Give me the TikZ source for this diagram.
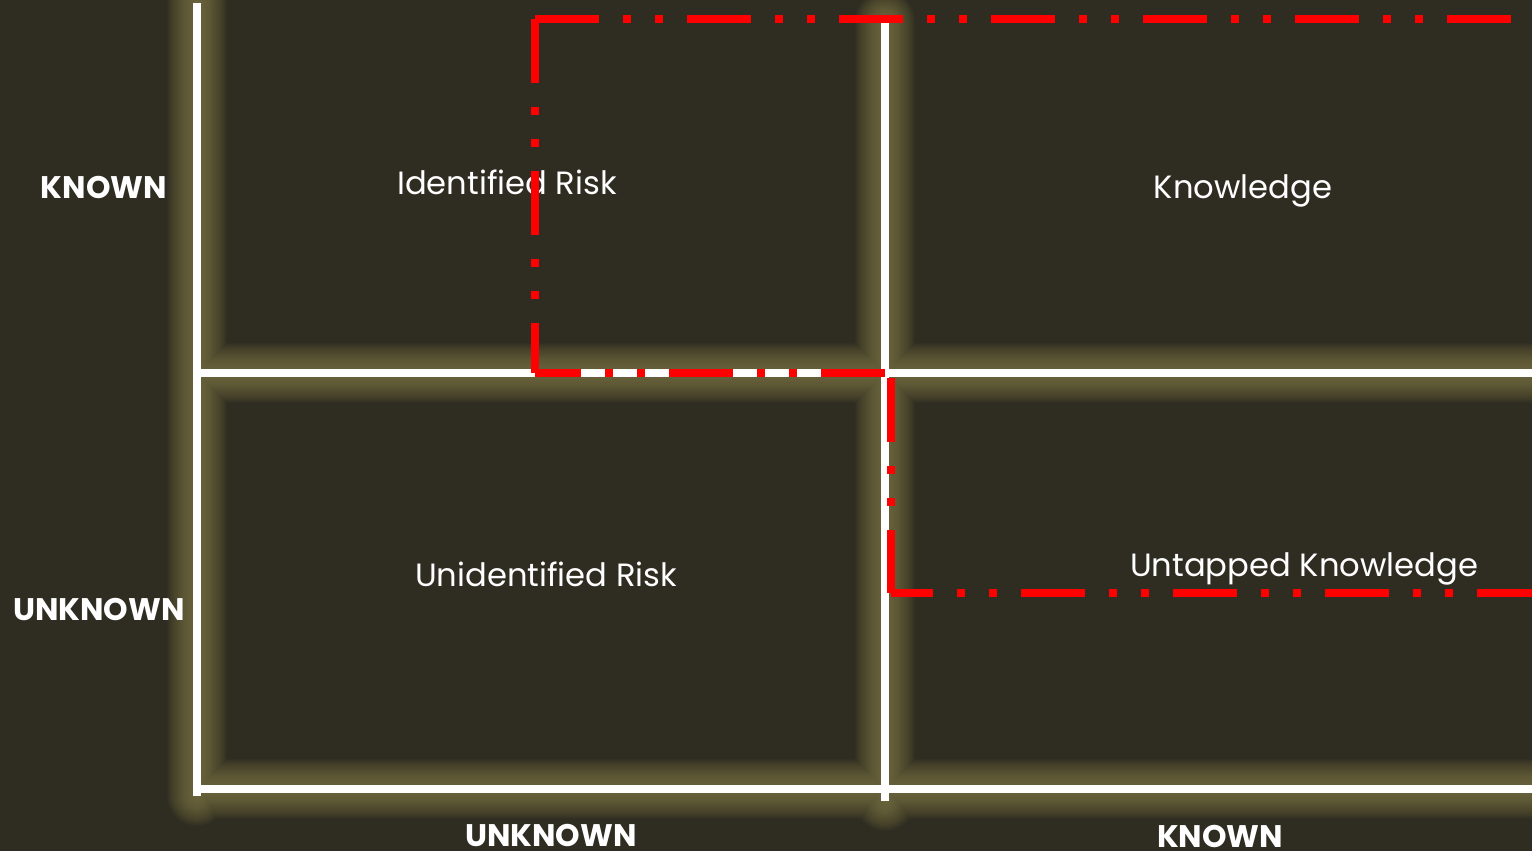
\documentclass[tikz,border=0pt]{standalone}
\usepackage{fontspec}
\setmainfont{Poppins}
\definecolor{bgcol}{HTML}{2F2D22}
\definecolor{glowcol}{HTML}{8C8450}
\definecolor{riskred}{HTML}{FF0000}
\begin{document}
\begin{tikzpicture}[x=0.5pt,y=-0.5pt,
    wline/.style={white,line width=3.8pt},
    redline/.style={riskred,line width=4pt,
      dash pattern=on 32pt off 12pt on 4pt off 12pt on 4pt off 12pt},
    lbl/.style={white,anchor=base,font=\fontsize{16.1}{18}\selectfont},
    axislbl/.style={white,anchor=base,font=\bfseries\fontsize{15.6}{18}\selectfont}]
  \fill[bgcol] (0,0) rectangle (1532,851);
  \useasboundingbox (0,0) rectangle (1532,851);
  % grid
  \coordinate (lt) at (197,3);
  \coordinate (lb) at (197,796);
  \coordinate (mt) at (885,21);
  \coordinate (mb) at (885,801);
  \coordinate (hl) at (197,373);
  \coordinate (hr) at (1532,373);
  \coordinate (bl) at (197,789);
  \coordinate (br) at (1532,789);
  \foreach \w in {2,...,30}
    \draw[glowcol,line width=\w pt,line cap=round,opacity=0.045]
      (lt) -- (lb) (mt) -- (mb) (hl) -- (hr) (bl) -- (br);
  \draw[wline] (lt) -- (lb) (mt) -- (mb) (hl) -- (hr) (bl) -- (br);
  % labels
  \node[lbl] (idrisk) at (507,194) {Identified Risk};
  \node[lbl] (knowl) at (1243,198) {Knowledge};
  \node[lbl] (unrisk) at (546,586) {Unidentified Risk};
  \node[lbl] (untap) at (1304,576) {Untapped Knowledge};
  \node[axislbl] (yknown) at (104,198) {KNOWN};
  \node[axislbl] (yunknown) at (99,620) {UNKNOWN};
  \node[axislbl] (xunknown) at (551,846) {UNKNOWN};
  \node[axislbl] (xknown) at (1220,847) {KNOWN};
  % red frames
  \coordinate (ir-tl) at (535,19);
  \coordinate (ir-tr) at (1511,19);
  \coordinate (ir-bl) at (535,373);
  \coordinate (ir-br) at (885,373);
  \draw[redline] (ir-tl) -- (ir-tr);
  \draw[redline] (ir-tl) -- (ir-bl);
  \draw[redline] (ir-br) -- (ir-bl);
  \coordinate (ut-t) at (891,378);
  \coordinate (ut-c) at (891,593);
  \coordinate (ut-r) at (1532,593);
  \draw[redline] (ut-t) -- (ut-c);
  \draw[redline,dash phase=11pt] (ut-c) -- (ut-r);
\end{tikzpicture}
\end{document}
